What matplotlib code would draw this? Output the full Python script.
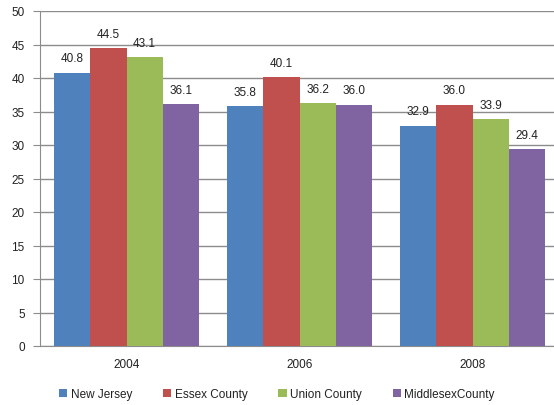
import numpy as np
import matplotlib.pyplot as plt

# Данные
years = ['2004', '2006', '2008']
series = ['New Jersey', 'Essex County', 'Union County', 'MiddlesexCounty']
new_jersey = [40.8, 35.8, 32.9]
essex = [44.5, 40.1, 36.0]
union = [43.1, 36.2, 33.9]
middlesex = [36.1, 36.0, 29.4]
colors = ['#4F81BD', '#C0504D', '#9BBB59', '#8064A2']

plt.rcParams['font.family'] = ['Liberation Sans', 'DejaVu Sans']

fig = plt.figure(figsize=(5.54, 4.06), dpi=100)
ax = fig.add_axes([40 / 554, 59 / 406, 519 / 554, 335 / 406])

x = np.arange(len(years))
w = 0.21
for i, (vals, name) in enumerate(zip([new_jersey, essex, union, middlesex], series)):
    pos = x + (i - 1.5) * w
    bars = ax.bar(pos, vals, w, color=colors[i], label=name, zorder=3)
    for b, v in zip(bars, vals):
        ax.annotate(f'{v:.1f}', (b.get_x() + b.get_width() / 2, v),
                    xytext=(0, 6), textcoords='offset points',
                    ha='center', va='bottom', fontsize=8.5, color='#222222')

ax.set_xlim(-0.5, 2.5)
ax.set_ylim(0, 50)
ax.set_yticks(range(0, 51, 5))
ax.set_xticks(x)
ax.set_xticklabels(years)
ax.yaxis.grid(True, color='#8c8c8c', linewidth=1, zorder=0)
ax.tick_params(axis='y', length=5, color='#8c8c8c', labelsize=8.5, labelcolor='#222222', pad=6)
ax.tick_params(axis='x', length=0, labelsize=8.5, labelcolor='#222222', pad=9)
for s in ['top', 'right']:
    ax.spines[s].set_visible(False)
for s in ['left', 'bottom']:
    ax.spines[s].set_color('#8c8c8c')

fig.legend(loc='center', bbox_to_anchor=(0.5, 1 - 395 / 406), ncol=4, frameon=False,
           fontsize=8.5, handlelength=0.7, handleheight=0.7, handletextpad=0.3,
           columnspacing=2.6, labelcolor='#222222')

plt.savefig('out.png', dpi=100)
